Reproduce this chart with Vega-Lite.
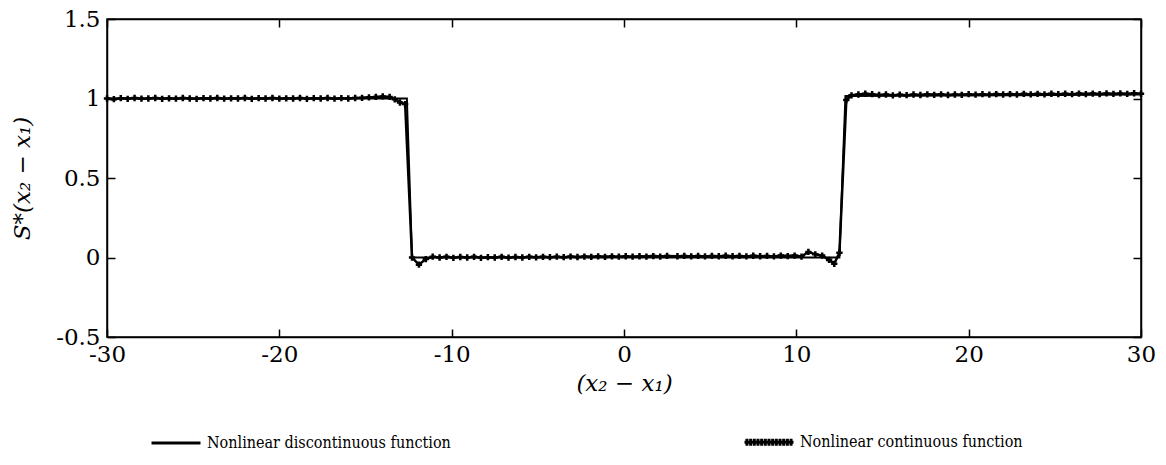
{
  "$schema": "https://vega.github.io/schema/vega-lite/v6.json",
  "width": 1034,
  "height": 318,
  "autosize": {"type": "none"},
  "padding": {"left": 107, "top": 19, "right": 25, "bottom": 128},
  "background": "white",
  "config": {
    "view": {"stroke": "black", "strokeWidth": 1.5},
    "font": "DejaVu Serif",
    "axis": {"labelFont": "DejaVu Serif", "titleFont": "DejaVu Serif"},
    "legend": {"labelFont": "DejaVu Serif Condensed, DejaVu Serif", "titleFont": "DejaVu Serif"}
  },
  "datasets": {
    "disc": [
      {"x": -30, "y": 1.0}, {"x": -12.6, "y": 1.0}, {"x": -12.3, "y": 0.0},
      {"x": 12.5, "y": 0.0}, {"x": 12.85, "y": 1.015}, {"x": 30, "y": 1.025}
    ],
    "cont": [
      {"x": -30, "y": 1.0}, {"x": -29.6, "y": 0.996}, {"x": -29.2, "y": 1.002}, {"x": -28.8, "y": 0.998},
      {"x": -28.4, "y": 1.003}, {"x": -28, "y": 0.999}, {"x": -27.6, "y": 1.0}, {"x": -27.2, "y": 1.003},
      {"x": -26.8, "y": 0.998}, {"x": -26.4, "y": 1.001}, {"x": -26, "y": 0.999}, {"x": -25.6, "y": 1.003},
      {"x": -25.2, "y": 1.0}, {"x": -24.8, "y": 0.998}, {"x": -24.4, "y": 1.002}, {"x": -24, "y": 1.0},
      {"x": -23.6, "y": 1.003}, {"x": -23.2, "y": 0.999}, {"x": -22.8, "y": 1.001}, {"x": -22.4, "y": 1.0},
      {"x": -22, "y": 1.003}, {"x": -21.6, "y": 0.998}, {"x": -21.2, "y": 1.002}, {"x": -20.8, "y": 1.0},
      {"x": -20.4, "y": 1.003}, {"x": -20, "y": 0.999}, {"x": -19.6, "y": 1.001}, {"x": -19.2, "y": 1.0},
      {"x": -18.8, "y": 1.003}, {"x": -18.4, "y": 0.998}, {"x": -18, "y": 1.002}, {"x": -17.6, "y": 1.0},
      {"x": -17.2, "y": 1.003}, {"x": -16.8, "y": 0.999}, {"x": -16.4, "y": 1.002}, {"x": -16, "y": 1.0},
      {"x": -15.6, "y": 1.003}, {"x": -15.2, "y": 1.004}, {"x": -14.8, "y": 1.007}, {"x": -14.4, "y": 1.01},
      {"x": -14, "y": 1.013}, {"x": -13.6, "y": 1.01}, {"x": -13.3, "y": 0.995}, {"x": -13, "y": 0.975},
      {"x": -12.7, "y": 0.965}, {"x": -12.3, "y": 0.0}, {"x": -11.9, "y": -0.045}, {"x": -11.5, "y": -0.01},
      {"x": -11.1, "y": 0.005}, {"x": -10.7, "y": 0.0}, {"x": -10.3, "y": 0.004}, {"x": -9.9, "y": -0.002},
      {"x": -9.5, "y": 0.003}, {"x": -9.1, "y": 0.0}, {"x": -8.7, "y": 0.004}, {"x": -8.3, "y": -0.002},
      {"x": -7.9, "y": 0.002}, {"x": -7.5, "y": 0.0}, {"x": -7.1, "y": 0.004}, {"x": -6.7, "y": -0.001},
      {"x": -6.3, "y": 0.003}, {"x": -5.9, "y": 0.0}, {"x": -5.5, "y": 0.004}, {"x": -5.1, "y": 0.001},
      {"x": -4.7, "y": 0.004}, {"x": -4.3, "y": 0.002}, {"x": -3.9, "y": 0.005}, {"x": -3.5, "y": 0.002},
      {"x": -3.1, "y": 0.006}, {"x": -2.7, "y": 0.003}, {"x": -2.3, "y": 0.006}, {"x": -1.9, "y": 0.004},
      {"x": -1.5, "y": 0.007}, {"x": -1.1, "y": 0.004}, {"x": -0.7, "y": 0.007}, {"x": -0.3, "y": 0.005},
      {"x": 0.1, "y": 0.008}, {"x": 0.5, "y": 0.005}, {"x": 0.9, "y": 0.008}, {"x": 1.3, "y": 0.006},
      {"x": 1.7, "y": 0.009}, {"x": 2.1, "y": 0.006}, {"x": 2.5, "y": 0.01}, {"x": 3.1, "y": 0.008},
      {"x": 3.5, "y": 0.01}, {"x": 3.9, "y": 0.007}, {"x": 4.3, "y": 0.01}, {"x": 4.7, "y": 0.007},
      {"x": 5.1, "y": 0.01}, {"x": 5.5, "y": 0.008}, {"x": 5.9, "y": 0.011}, {"x": 6.3, "y": 0.008},
      {"x": 6.7, "y": 0.01}, {"x": 7.1, "y": 0.007}, {"x": 7.5, "y": 0.011}, {"x": 7.9, "y": 0.008},
      {"x": 8.3, "y": 0.01}, {"x": 8.7, "y": 0.007}, {"x": 9.1, "y": 0.012}, {"x": 9.5, "y": 0.009},
      {"x": 9.9, "y": 0.012}, {"x": 10.3, "y": 0.006}, {"x": 10.7, "y": 0.035}, {"x": 11.1, "y": 0.02},
      {"x": 11.5, "y": 0.012}, {"x": 11.9, "y": -0.015}, {"x": 12.2, "y": -0.04}, {"x": 12.5, "y": 0.03},
      {"x": 12.9, "y": 0.99}, {"x": 13.2, "y": 1.02}, {"x": 13.6, "y": 1.025}, {"x": 14, "y": 1.03},
      {"x": 14.4, "y": 1.027}, {"x": 14.8, "y": 1.022}, {"x": 15.2, "y": 1.025}, {"x": 15.6, "y": 1.02},
      {"x": 16, "y": 1.024}, {"x": 16.4, "y": 1.021}, {"x": 16.8, "y": 1.025}, {"x": 17.2, "y": 1.022},
      {"x": 17.6, "y": 1.026}, {"x": 18, "y": 1.023}, {"x": 18.4, "y": 1.026}, {"x": 18.8, "y": 1.022},
      {"x": 19.2, "y": 1.025}, {"x": 19.6, "y": 1.023}, {"x": 20, "y": 1.027}, {"x": 20.4, "y": 1.024},
      {"x": 20.8, "y": 1.027}, {"x": 21.2, "y": 1.024}, {"x": 21.6, "y": 1.028}, {"x": 22, "y": 1.025},
      {"x": 22.4, "y": 1.028}, {"x": 22.8, "y": 1.025}, {"x": 23.2, "y": 1.029}, {"x": 23.6, "y": 1.026},
      {"x": 24, "y": 1.029}, {"x": 24.4, "y": 1.026}, {"x": 24.8, "y": 1.03}, {"x": 25.2, "y": 1.027},
      {"x": 25.6, "y": 1.03}, {"x": 26, "y": 1.027}, {"x": 26.4, "y": 1.031}, {"x": 26.8, "y": 1.028},
      {"x": 27.2, "y": 1.031}, {"x": 27.6, "y": 1.028}, {"x": 28, "y": 1.032}, {"x": 28.4, "y": 1.029},
      {"x": 28.8, "y": 1.032}, {"x": 29.2, "y": 1.029}, {"x": 29.6, "y": 1.033}, {"x": 30, "y": 1.03}
    ],
    "legendrows": [
      {"series": "Nonlinear discontinuous function", "x": -30, "y": 1.0},
      {"series": "Nonlinear continuous function", "x": 30, "y": 1.03}
    ]
  },
  "layer": [
    {
      "data": {"name": "disc"},
      "mark": {"type": "line", "color": "black", "strokeWidth": 2},
      "encoding": {
        "x": {
          "field": "x", "type": "quantitative",
          "scale": {"domain": [-30, 30], "nice": false, "zero": false},
          "axis": {
            "values": [-30, -20, -10, 0, 10, 20, 30],
            "labelExpr": "datum.value < 0 ? '-' + abs(datum.value) : '' + datum.value",
            "title": "(x₂ − x₁)", "titleFontStyle": "italic", "titleFontWeight": "normal",
            "titleFontSize": 23, "titleColor": "black", "titlePadding": 6,
            "labelFontSize": 23, "labelColor": "black", "labelPadding": 14,
            "tickSize": -8, "tickColor": "black", "tickWidth": 1.5,
            "domainColor": "black", "domainWidth": 1.5, "grid": false, "labelFlush": false
          }
        },
        "y": {
          "field": "y", "type": "quantitative",
          "scale": {"domain": [-0.5, 1.5], "nice": false, "zero": false},
          "axis": {
            "values": [-0.5, 0, 0.5, 1, 1.5],
            "labelExpr": "datum.value < 0 ? '-' + abs(datum.value) : '' + datum.value",
            "title": "S*(x₂ − x₁)", "titleFontStyle": "italic", "titleFontWeight": "normal",
            "titleFontSize": 23, "titleColor": "black", "titlePadding": 21,
            "labelFontSize": 23, "labelColor": "black", "labelPadding": 15,
            "tickSize": -8, "tickColor": "black", "tickWidth": 1.5,
            "domainColor": "black", "domainWidth": 1.5, "grid": false, "labelFlush": false
          }
        }
      }
    },
    {
      "data": {"name": "cont"},
      "mark": {"type": "line", "color": "black", "strokeWidth": 2.5},
      "encoding": {
        "x": {"field": "x", "type": "quantitative", "axis": null},
        "y": {"field": "y", "type": "quantitative", "axis": null}
      }
    },
    {
      "data": {"name": "cont"},
      "mark": {"type": "point", "shape": "cross", "filled": true, "size": 40, "color": "black", "opacity": 1},
      "encoding": {
        "x": {"field": "x", "type": "quantitative", "axis": null},
        "y": {"field": "y", "type": "quantitative", "axis": null}
      }
    },
    {
      "data": {"name": "legendrows"},
      "mark": {"type": "point", "opacity": 0, "color": "black", "filled": false},
      "encoding": {
        "x": {
          "field": "x", "type": "quantitative",
          "axis": {"orient": "top", "values": [-30, -20, -10, 0, 10, 20, 30], "labels": false, "title": null,
                   "tickSize": -8, "tickColor": "black", "tickWidth": 1.5, "domainColor": "black", "domainWidth": 1.5, "grid": false}
        },
        "y": {
          "field": "y", "type": "quantitative",
          "axis": {"orient": "right", "values": [-0.5, 0, 0.5, 1, 1.5], "labels": false, "title": null,
                   "tickSize": -8, "tickColor": "black", "tickWidth": 1.5, "domainColor": "black", "domainWidth": 1.5, "grid": false}
        },
        "shape": {
          "field": "series", "type": "nominal",
          "scale": {
            "domain": ["Nonlinear discontinuous function", "Nonlinear continuous function"],
            "range": [
              "M-1,0L1,0",
              "M-1,0L1,0M-0.9,-0.14L-0.9,0.14M-0.75,-0.14L-0.75,0.14M-0.6,-0.14L-0.6,0.14M-0.45,-0.14L-0.45,0.14M-0.3,-0.14L-0.3,0.14M-0.15,-0.14L-0.15,0.14M0,-0.14L0,0.14M0.15,-0.14L0.15,0.14M0.3,-0.14L0.3,0.14M0.45,-0.14L0.45,0.14M0.6,-0.14L0.6,0.14M0.75,-0.14L0.75,0.14M0.9,-0.14L0.9,0.14"
            ]
          },
          "legend": {
            "orient": "none", "legendX": 43, "legendY": 397, "direction": "horizontal",
            "title": null, "symbolSize": 2400, "symbolStrokeWidth": 3,
            "labelFontSize": 16, "labelColor": "black", "labelLimit": 0, "labelOffset": 5,
            "columnPadding": 287,
            "encode": {"symbols": {"update": {"opacity": {"value": 1}, "stroke": {"value": "black"}, "fill": {"value": "transparent"}}}}
          }
        }
      }
    }
  ],
  "resolve": {"axis": {"x": "independent", "y": "independent"}}
}
